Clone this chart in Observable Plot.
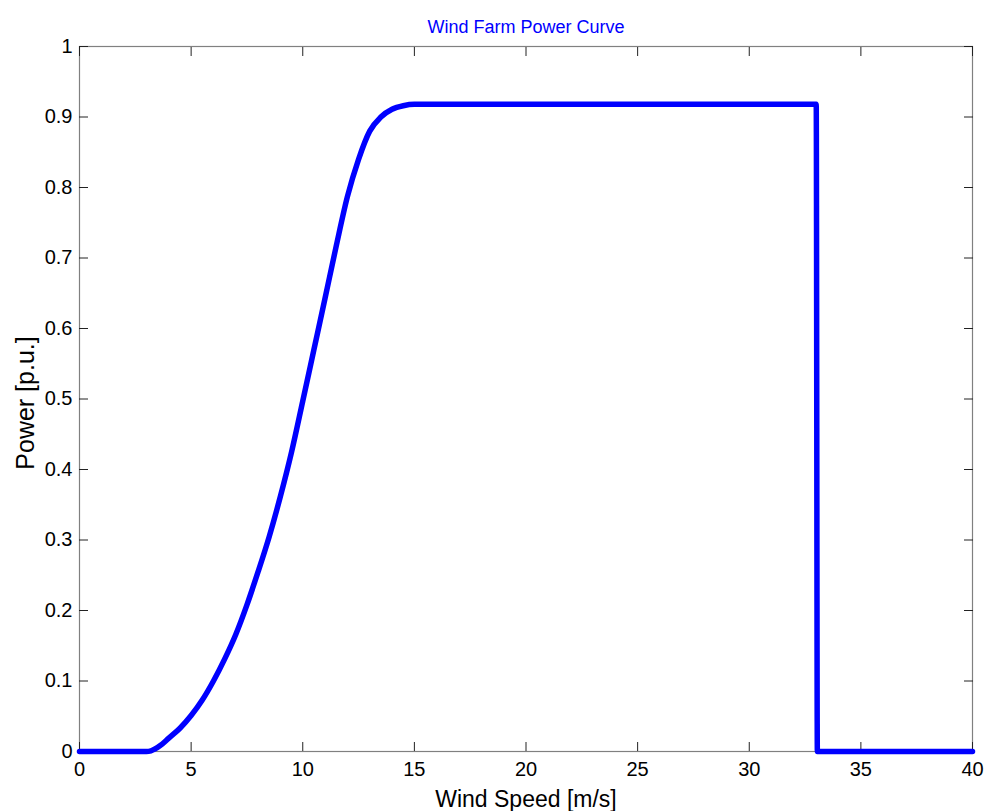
<!DOCTYPE html>
<html>
<head>
<meta charset="utf-8">
<script src="https://cdn.jsdelivr.net/npm/d3@7"></script>
<script src="https://cdn.jsdelivr.net/npm/@observablehq/plot@0.6"></script>
<style>
  html, body { margin: 0; padding: 0; background: #fff; }
  #chart svg { display: block; }
</style>
</head>
<body>
<div id="chart"></div>
<script>
const windSpeed = [0, 1, 2, 3, 3.2, 3.6, 4, 4.5, 5, 5.5, 6, 6.5, 7, 7.5, 8, 8.5, 9, 9.5, 10, 10.5, 11, 11.5, 12, 12.5, 13, 13.5, 14, 14.5, 15, 20, 25, 30, 33, 33.05, 35, 40];
const power = [0, 0, 0, 0, 0.001, 0.008, 0.019, 0.033, 0.051, 0.073, 0.1, 0.131, 0.166, 0.208, 0.255, 0.305, 0.362, 0.425, 0.497, 0.57, 0.643, 0.717, 0.787, 0.84, 0.88, 0.9, 0.911, 0.916, 0.918, 0.918, 0.918, 0.918, 0.918, 0, 0, 0];
const xTicks = [0, 5, 10, 15, 20, 25, 30, 35, 40];
const yTicks = [0, 0.1, 0.2, 0.3, 0.4, 0.5, 0.6, 0.7, 0.8, 0.9, 1];
const titleText = "Wind Farm Power Curve";
const xLabel = "Wind Speed [m/s]";
const yLabel = "Power [p.u.]";

const data = windSpeed.map((s, i) => ({speed: s, power: power[i]}));
const font = "'Liberation Sans', Arial, sans-serif";
const tickColor = "#222";
const noText = () => "";

const chart = Plot.plot({
  width: 987,
  height: 811,
  marginLeft: 79,
  marginRight: 15,
  marginTop: 46,
  marginBottom: 60,
  style: {fontFamily: font, background: "#fff", color: "#000"},
  x: {domain: [0, 40], label: null},
  y: {domain: [0, 1], label: null},
  marks: [
    Plot.frame({stroke: "#808080", strokeWidth: 1.2}),
    // inward tick marks on all four sides
    Plot.axisX(xTicks, {anchor: "bottom", tickSize: 9, dy: -9, tickFormat: noText, label: null, stroke: tickColor}),
    Plot.axisX(xTicks, {anchor: "top", tickSize: 9, dy: 9, tickFormat: noText, label: null, stroke: tickColor}),
    Plot.axisY(yTicks, {anchor: "left", tickSize: 9, dx: 9, tickFormat: noText, label: null, stroke: tickColor}),
    Plot.axisY(yTicks, {anchor: "right", tickSize: 9, dx: -9, tickFormat: noText, label: null, stroke: tickColor}),
    // tick labels
    Plot.axisX(xTicks, {anchor: "bottom", tickSize: 0, tickPadding: 10, fontSize: 20, label: null, fill: "#000"}),
    Plot.axisY(yTicks, {anchor: "left", tickSize: 0, tickPadding: 7, fontSize: 20, label: null, fill: "#000", tickFormat: d => String(d)}),
    Plot.line(data, {x: "speed", y: "power", stroke: "#0000ff", strokeWidth: 5.5, curve: "monotone-x", strokeLinejoin: "round"}),
    Plot.text([titleText], {frameAnchor: "top", dy: -26, fill: "#0000ff", fontSize: 18}),
    Plot.text([xLabel], {frameAnchor: "bottom", lineAnchor: "middle", dy: 48, fill: "#000", fontSize: 23}),
    Plot.text([yLabel], {frameAnchor: "left", textAnchor: "middle", dx: -54, dy: 4, rotate: -90, fill: "#000", fontSize: 25})
  ]
});
document.getElementById("chart").appendChild(chart);
</script>
</body>
</html>
